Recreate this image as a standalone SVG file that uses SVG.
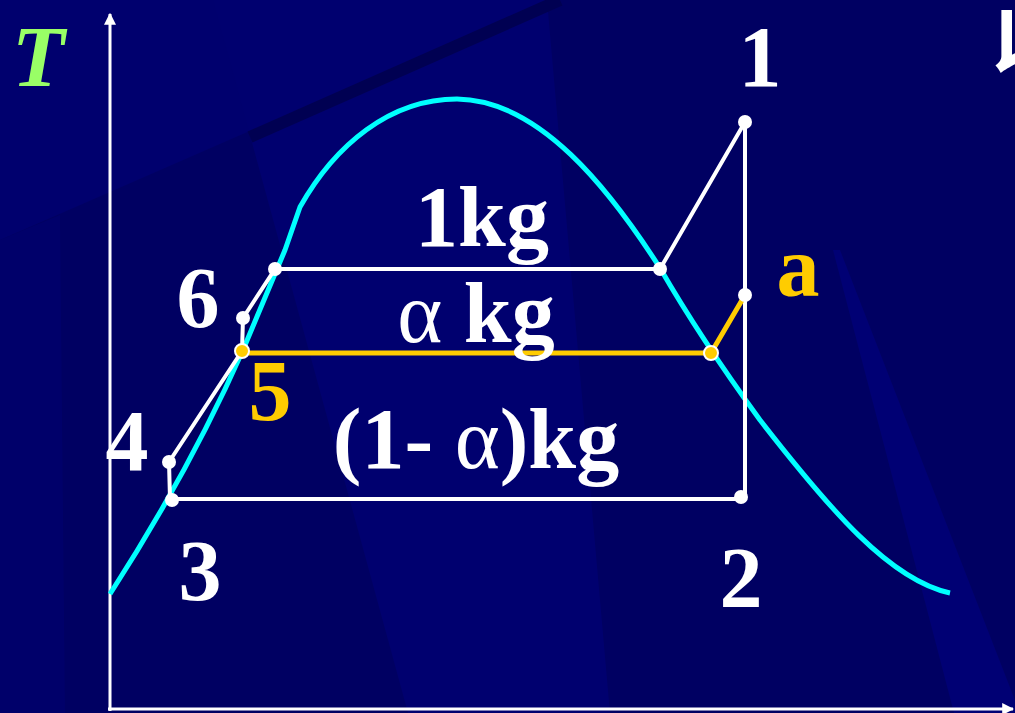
<svg xmlns="http://www.w3.org/2000/svg" width="1015" height="713" viewBox="0 0 1015 713">
<style>
.lbl{font-family:"Liberation Serif","Times New Roman",serif;font-weight:bold;font-size:86px;text-anchor:middle}
.w{fill:#FFFFFF}
.o{fill:#FFCC00}
.ln{stroke:#FFFFFF;stroke-width:4;fill:none;stroke-linecap:round}
.or{stroke:#FFCC00;stroke-width:5;fill:none;stroke-linecap:round}
.dw{fill:#FFFFFF}
.do{fill:#FFCC00;stroke:#FFFFFF;stroke-width:2}
.greek{font-weight:normal}
</style>
<defs>
<marker id="arr" viewBox="0 0 10 10" refX="9" refY="5" markerWidth="4" markerHeight="4" orient="auto" markerUnits="strokeWidth">
<path d="M0,0 L10,5 L0,10 z" fill="#FFFFFF"/>
</marker>
</defs>
<g id="background">
<rect x="0" y="0" width="1015" height="713" fill="#000062"/>
<polygon points="0,0 550,0 0,240" fill="#00006E"/>
<polygon points="213,0 547,0 610,713 408,713" fill="#00006F"/>
<line x1="250" y1="137" x2="560" y2="0" stroke="#000052" stroke-width="12"/>
<polygon points="833,250 840,250 1020,713 954,713" fill="#000074"/>
<polygon points="0,240 60,215 65,713 0,713" fill="#00006A"/>
</g>
<g id="axes">
<line x1="110" y1="711" x2="110" y2="14" stroke="#FFFFFF" stroke-width="3" marker-end="url(#arr)"/>
<line x1="108" y1="709" x2="1013" y2="709" stroke="#FFFFFF" stroke-width="3" marker-end="url(#arr)"/>
</g>
<g id="saturation-curve">
<path d="M110,594 Q190,470 243,350 L285,250 L300,207 C335,145 390,99 457,99 C540,100 610,190 660,268 C690,320 720,365 760,420 C830,510 890,580 950,593" fill="none" stroke="#00FFFF" stroke-width="5" stroke-linejoin="round"/>
</g>
<g id="connectors">
<line class="ln" x1="275" y1="269" x2="660" y2="269"/>
<line class="ln" x1="660" y1="269" x2="745" y2="122"/>
<line class="ln" x1="745" y1="122" x2="745" y2="498"/>
<line class="ln" x1="172" y1="499" x2="742" y2="499"/>
<line class="ln" x1="169" y1="462" x2="170" y2="499"/>
<line class="ln" x1="169" y1="462" x2="242" y2="351"/>
<line class="ln" x1="242" y1="351" x2="243" y2="318"/>
<line class="ln" x1="243" y1="318" x2="275" y2="269"/>
<line class="or" x1="242" y1="353" x2="711" y2="353"/>
<line class="or" x1="711" y1="353" x2="745" y2="295"/>
</g>
<g id="node-1"><circle class="dw" cx="745" cy="122" r="7"/><text class="lbl w" x="760" y="86">1</text></g>
<g id="node-sat-vapor"><circle class="dw" cx="660" cy="269" r="7"/></g>
<g id="node-sat-liquid"><circle class="dw" cx="275" cy="269" r="7"/></g>
<g id="node-6"><circle class="dw" cx="243" cy="318" r="7"/><text class="lbl w" x="198" y="327">6</text></g>
<g id="node-5"><circle class="do" cx="242" cy="351" r="7"/><text class="lbl o" x="270" y="420">5</text></g>
<g id="node-sat-vapor-mid"><circle class="do" cx="711" cy="353" r="7"/></g>
<g id="node-a"><circle class="dw" cx="745" cy="295" r="7"/><text class="lbl o" x="798" y="296">a</text></g>
<g id="node-4"><circle class="dw" cx="169" cy="462" r="7"/><text class="lbl w" x="127" y="470">4</text></g>
<g id="node-3"><circle class="dw" cx="172" cy="500" r="7"/><text class="lbl w" x="200" y="600">3</text></g>
<g id="node-2"><circle class="dw" cx="741" cy="497" r="7"/><text class="lbl w" x="741" y="607">2</text></g>
<g id="labels">
<text x="12" y="86" style="font-family:'Liberation Serif','Times New Roman',serif;font-weight:bold;font-style:italic;font-size:86px;fill:#99FF66">T</text>
<text class="lbl w" x="482" y="246">1kg</text>
<text class="lbl w" x="476" y="342"><tspan class="greek">α</tspan> kg</text>
<text class="lbl w" x="476" y="468">(1- <tspan class="greek">α</tspan>)kg</text>
<text x="990" y="72" style="font-family:'Noto Sans CJK SC',sans-serif;font-weight:bold;font-size:80px;fill:#FFFFFF">以</text>
</g>
</svg>
